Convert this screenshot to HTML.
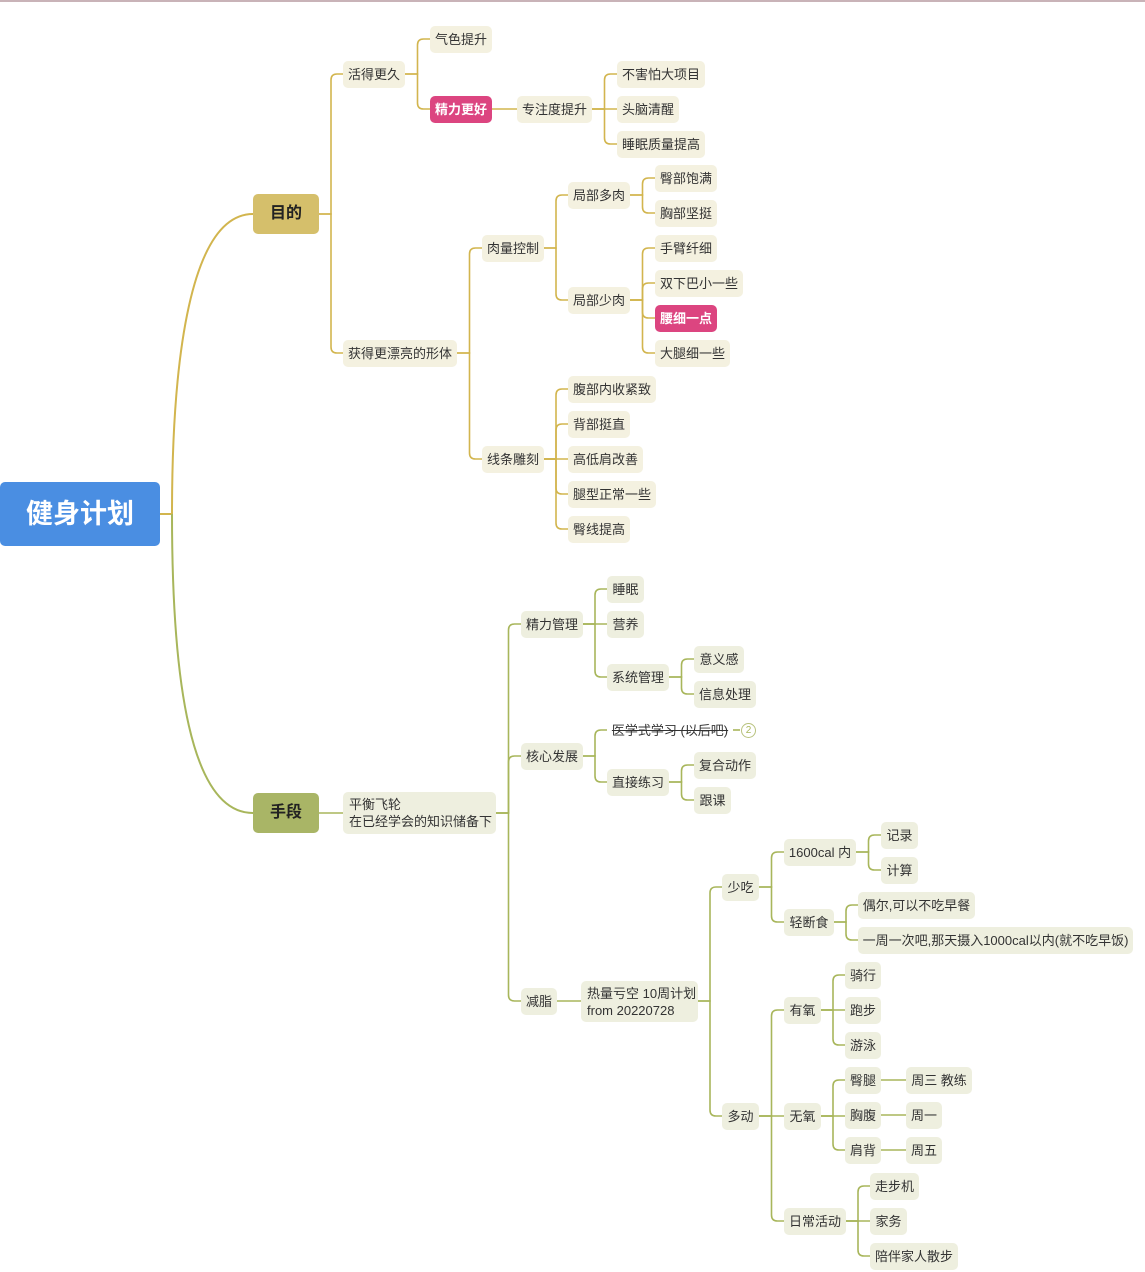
<!DOCTYPE html>
<html><head><meta charset="utf-8"><style>
body{margin:0;width:1145px;height:1272px;background:#fff;position:relative;overflow:hidden;font-family:"Liberation Sans","Noto Sans CJK SC",sans-serif;}
.n{position:absolute;height:27px;line-height:27px;font-size:13px;color:#333;border-radius:5px;text-align:center;white-space:nowrap;box-sizing:border-box;}
.t{background:#f4f1e0}.b{background:#eeefdf}
.pk{background:#dc4580;color:#fff;font-weight:bold}
svg{position:absolute;left:0;top:0}
#topline{position:absolute;left:0;top:0;width:1145px;height:2px;background:#c9b3b8}
</style></head><body>
<div id="topline"></div>
<svg id="s" width="1145" height="1272"></svg>
<div class="n" style="left:0;top:482px;width:160px;height:64px;line-height:64px;background:#4a8ee2;color:#fff;font-size:27px;font-weight:bold;">健身计划</div>
<div class="n" style="left:253px;top:194px;width:66px;height:40px;line-height:40px;background:#d5bf6b;color:#222;font-size:16px;font-weight:bold;">目的</div>
<div class="n" style="left:253px;top:793px;width:66px;height:40px;line-height:40px;background:#a9b566;color:#222;font-size:16px;font-weight:bold;">手段</div>
<div id="nodes"></div>
<script>
var G='#d2b54e',Gr='#a8b65b';
var N=[
// id,x,cy,w,text,cls,parent
['a',343,74,62,'活得更久','t','m'],
['a1',430,39,62,'气色提升','t','a'],
['a2',430,109,62,'精力更好','pk','a'],
['a3',517,109,75,'专注度提升','t','a2'],
['a4',617,74,88,'不害怕大项目','t','a3'],
['a5',617,109,62,'头脑清醒','t','a3'],
['a6',617,144,88,'睡眠质量提高','t','a3'],
['b',343,353,114,'获得更漂亮的形体','t','m'],
['b1',482,248,62,'肉量控制','t','b'],
['b2',568,195,62,'局部多肉','t','b1'],
['b3',655,178,62,'臀部饱满','t','b2'],
['b4',655,213,62,'胸部坚挺','t','b2'],
['b5',568,300,62,'局部少肉','t','b1'],
['b6',655,248,62,'手臂纤细','t','b5'],
['b7',655,283,88,'双下巴小一些','t','b5'],
['b8',655,318,62,'腰细一点','pk','b5'],
['b9',655,353,75,'大腿细一些','t','b5'],
['c1',482,459,62,'线条雕刻','t','b'],
['c2',568,389,88,'腹部内收紧致','t','c1'],
['c3',568,424,62,'背部挺直','t','c1'],
['c4',568,459,75,'高低肩改善','t','c1'],
['c5',568,494,88,'腿型正常一些','t','c1'],
['c6',568,529,62,'臀线提高','t','c1'],
['d',343,813,153,'','b','h'],
['e',521,624,62,'精力管理','b','d'],
['e1',607,589,37,'睡眠','b','e'],
['e2',607,624,37,'营养','b','e'],
['e3',607,677,62,'系统管理','b','e'],
['e4',694,659,50,'意义感','b','e3'],
['e5',694,694,62,'信息处理','b','e3'],
['f',521,756,62,'核心发展','b','d'],
['f1',607,730,126,'','x','f'],
['f2',607,782,62,'直接练习','b','f'],
['f3',694,765,62,'复合动作','b','f2'],
['f4',694,800,37,'跟课','b','f2'],
['g',521,1001,36,'减脂','b','d'],
['g1',581,1001,117,'','b','g'],
['h1',722,887,37,'少吃','b','g1'],
['h2',784,852,72,'1600cal 内','b','h1'],
['h3',881,835,37,'记录','b','h2'],
['h4',881,870,37,'计算','b','h2'],
['h5',784,922,50,'轻断食','b','h1'],
['h6',858,905,117,'偶尔,可以不吃早餐','b','h5'],
['h7',858,940,275,'一周一次吧,那天摄入1000cal以内(就不吃早饭)','b','h5'],
['i',722,1116,37,'多动','b','g1'],
['i1',784,1010,37,'有氧','b','i'],
['i2',845,975,36,'骑行','b','i1'],
['i3',845,1010,36,'跑步','b','i1'],
['i4',845,1045,36,'游泳','b','i1'],
['j',784,1116,37,'无氧','b','i'],
['j1',845,1080,36,'臀腿','b','j'],
['j2',845,1115,36,'胸腹','b','j'],
['j3',845,1150,36,'肩背','b','j'],
['k1',906,1080,66,'周三 教练','b','j1'],
['k2',906,1115,36,'周一','b','j2'],
['k3',906,1150,36,'周五','b','j3'],
['l',784,1221,62,'日常活动','b','i'],
['l1',870,1186,49,'走步机','b','l'],
['l2',870,1221,37,'家务','b','l'],
['l3',870,1256,88,'陪伴家人散步','b','l']
];
var M={m:{r:319,cy:214,top:1},h:{r:319,cy:813,top:0}};
var html='',p='';
N.forEach(function(n){M[n[0]]={r:n[1]+n[3],cy:n[2],top:n[5]=='t'||n[5]=='pk'}});
var col={};
N.forEach(function(n){
 var id=n[0],x=n[1],cy=n[2],w=n[3],tx=n[4],c=n[5],pa=M[n[6]];
 if(id=='d'){html+='<div class="n b" style="left:343px;top:792px;width:153px;height:42px;line-height:17px;padding:4px 6px;text-align:left">平衡飞轮<br>在已经学会的知识储备下</div>';}
 else if(id=='g1'){html+='<div class="n b" style="left:581px;top:981px;width:117px;height:41px;line-height:17px;padding:4px 6px;text-align:left">热量亏空 10周计划<br>from 20220728</div>';}
 else if(id=='f1'){html+='<div class="n" style="left:607px;top:717px;width:126px;text-decoration:line-through;background:none">医学式学习 (以后吧)</div><div class="n" style="left:741px;top:723px;width:15px;height:15px;line-height:13px;border:1px solid #b8c27e;border-radius:50%;color:#a8b65b;font-size:10px">2</div>';}
 else html+='<div class="n '+c+'" style="left:'+x+'px;top:'+(cy-13)+'px;width:'+w+'px">'+tx+'</div>';
 var color=(id<'d'&&id.length&&(id[0]=='a'||id[0]=='b'||id[0]=='c'))?G:Gr;
 var t=pa.r+(x-pa.r)/2;
 var py=pa.cy,r=6;
 if(Math.abs(cy-py)<2) p+='<path d="M'+pa.r+' '+py+' H'+x+'" stroke="'+color+'" stroke-width="1.6" fill="none"/>';
 else{var s=cy>py?1:-1;
 p+='<path d="M'+pa.r+' '+py+' H'+t+' V'+(cy-s*r)+' Q'+t+' '+cy+' '+(t+r)+' '+cy+' H'+x+'" stroke="'+color+'" stroke-width="1.6" fill="none"/>';}
});
p+='<path d="M733 730 H740" stroke="'+Gr+'" stroke-width="1.6"/>';
p+='<path d="M160 514 H172 C172 360 190 214 253 214" stroke="'+G+'" stroke-width="2" fill="none"/>';
p+='<path d="M172 514 C172 680 190 813 253 813" stroke="'+Gr+'" stroke-width="2" fill="none"/>';
document.getElementById('s').innerHTML=p;
document.getElementById('nodes').innerHTML=html;
</script>
</body></html>
